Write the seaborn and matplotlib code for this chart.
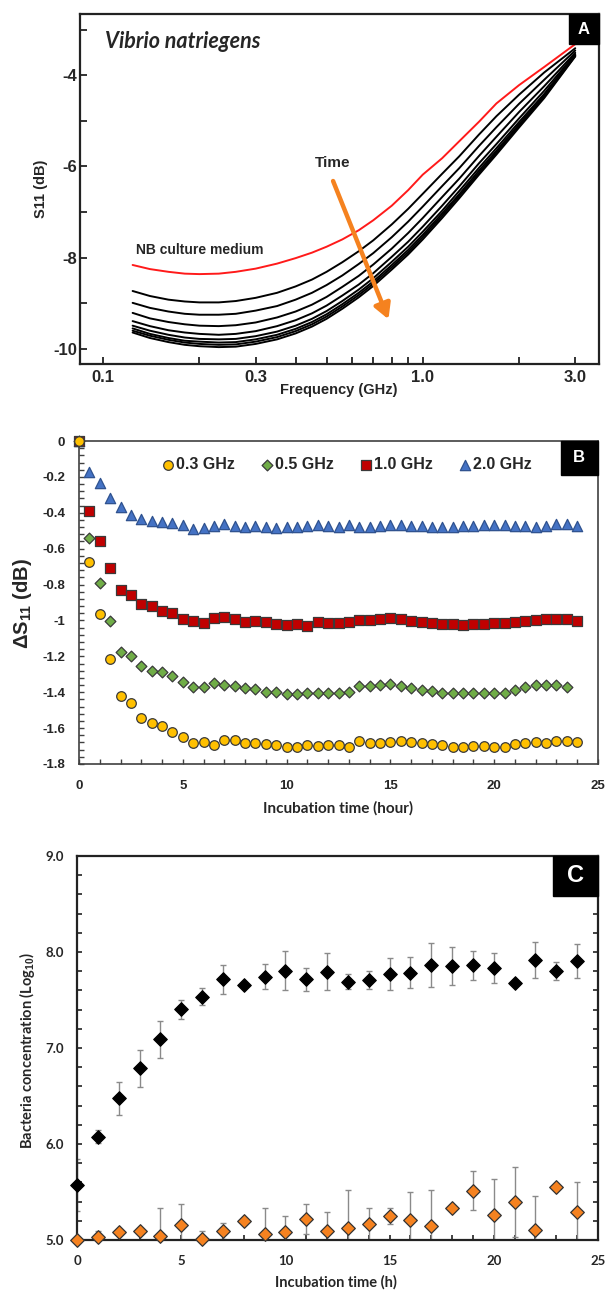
import matplotlib
matplotlib.use('Agg')
import matplotlib.pyplot as plt
import numpy as np
import pandas as pd
import seaborn as sns
from matplotlib.patches import Rectangle
from matplotlib.ticker import FixedLocator, MultipleLocator, FuncFormatter, NullFormatter

# ---- panel A: S11 spectra ----
freq_ghz = [0.1236, 0.14, 0.16, 0.18, 0.2, 0.23, 0.26, 0.3, 0.35, 0.4, 0.45, 0.5, 0.56,
            0.63, 0.7, 0.8, 0.9, 1.0, 1.15, 1.3, 1.5, 1.7, 2.0, 2.4, 3.0]
s11_medium = [-8.16, -8.25, -8.31, -8.35, -8.36, -8.35, -8.31, -8.24, -8.13, -8.01, -7.89,
              -7.76, -7.60, -7.40, -7.18, -6.86, -6.52, -6.18, -5.82, -5.45, -5.02, -4.62,
              -4.22, -3.82, -3.32]
s11_culture = [
    [-8.73, -8.84, -8.92, -8.96, -8.98, -8.98, -8.95, -8.88, -8.77, -8.63, -8.48, -8.31, -8.10,
     -7.86, -7.62, -7.27, -6.93, -6.60, -6.16, -5.78, -5.30, -4.90, -4.43, -3.94, -3.41],
    [-8.99, -9.10, -9.18, -9.23, -9.25, -9.25, -9.23, -9.16, -9.06, -8.92, -8.77, -8.60, -8.39,
     -8.14, -7.90, -7.55, -7.21, -6.88, -6.43, -6.04, -5.55, -5.14, -4.63, -4.10, -3.46],
    [-9.21, -9.33, -9.41, -9.46, -9.49, -9.50, -9.48, -9.42, -9.31, -9.18, -9.03, -8.86, -8.64,
     -8.40, -8.15, -7.80, -7.46, -7.13, -6.67, -6.27, -5.77, -5.35, -4.81, -4.24, -3.51],
    [-9.39, -9.50, -9.59, -9.64, -9.67, -9.69, -9.67, -9.61, -9.50, -9.37, -9.22, -9.05, -8.83,
     -8.59, -8.34, -7.98, -7.65, -7.32, -6.86, -6.44, -5.93, -5.51, -4.95, -4.34, -3.54],
    [-9.49, -9.60, -9.69, -9.75, -9.78, -9.79, -9.78, -9.72, -9.62, -9.49, -9.34, -9.17, -8.95,
     -8.70, -8.45, -8.09, -7.76, -7.43, -6.97, -6.54, -6.03, -5.60, -5.03, -4.41, -3.56],
    [-9.55, -9.67, -9.76, -9.82, -9.84, -9.86, -9.85, -9.79, -9.69, -9.56, -9.41, -9.24, -9.02,
     -8.77, -8.52, -8.16, -7.83, -7.50, -7.03, -6.61, -6.09, -5.66, -5.08, -4.44, -3.57],
    [-9.60, -9.71, -9.80, -9.86, -9.89, -9.91, -9.90, -9.84, -9.74, -9.61, -9.46, -9.29, -9.07,
     -8.82, -8.57, -8.21, -7.88, -7.55, -7.08, -6.65, -6.14, -5.70, -5.11, -4.47, -3.58],
    [-9.64, -9.76, -9.85, -9.91, -9.94, -9.96, -9.95, -9.89, -9.79, -9.66, -9.51, -9.34, -9.12,
     -8.87, -8.62, -8.26, -7.93, -7.60, -7.13, -6.70, -6.18, -5.74, -5.15, -4.50, -3.59],
]

# ---- panel B: delta S11 over time ----
time_b = np.arange(0, 24.01, 0.5)
ds11_03 = [0, -0.672, -0.964, -1.217, -1.419, -1.458, -1.546, -1.573, -1.588, -1.620,
           -1.648, -1.681, -1.676, -1.694, -1.666, -1.666, -1.681, -1.681, -1.689, -1.696,
           -1.707, -1.704, -1.694, -1.700, -1.696, -1.696, -1.704, -1.670, -1.685, -1.681,
           -1.677, -1.672, -1.677, -1.685, -1.690, -1.696, -1.704, -1.704, -1.698, -1.698,
           -1.704, -1.704, -1.689, -1.685, -1.677, -1.681, -1.674, -1.674, -1.677]
ds11_05 = [0, -0.542, -0.793, -1.005, -1.174, -1.196, -1.254, -1.282, -1.289, -1.310,
           -1.343, -1.369, -1.373, -1.350, -1.358, -1.365, -1.378, -1.384, -1.401, -1.397,
           -1.410, -1.410, -1.402, -1.406, -1.406, -1.402, -1.401, -1.364, -1.364, -1.360,
           -1.356, -1.365, -1.378, -1.388, -1.395, -1.402, -1.406, -1.406, -1.406, -1.406,
           -1.406, -1.402, -1.388, -1.373, -1.362, -1.360, -1.362, -1.369]
ds11_10 = [0, -0.390, -0.555, -0.706, -0.830, -0.858, -0.910, -0.920, -0.946, -0.957,
           -0.992, -1.003, -1.012, -0.985, -0.983, -0.992, -1.007, -1.001, -1.007, -1.020,
           -1.027, -1.018, -1.031, -1.011, -1.016, -1.014, -1.007, -0.998, -1.000, -0.994,
           -0.985, -0.992, -1.001, -1.007, -1.012, -1.020, -1.022, -1.027, -1.022, -1.022,
           -1.014, -1.014, -1.007, -1.001, -0.998, -0.990, -0.990, -0.990, -1.001]
ds11_20 = [0, -0.175, -0.232, -0.316, -0.370, -0.414, -0.437, -0.446, -0.450, -0.459,
           -0.468, -0.489, -0.483, -0.472, -0.461, -0.472, -0.477, -0.474, -0.481, -0.485,
           -0.477, -0.477, -0.472, -0.470, -0.474, -0.477, -0.468, -0.477, -0.481, -0.472,
           -0.466, -0.468, -0.472, -0.474, -0.477, -0.481, -0.477, -0.474, -0.472, -0.470,
           -0.470, -0.470, -0.472, -0.474, -0.477, -0.472, -0.464, -0.464, -0.472]

# ---- panel C: plate counts ----
time_c = np.arange(0, 25)
conc_culture = [5.573, 6.076, 6.476, 6.788, 7.090, 7.403, 7.535, 7.715, 7.653, 7.743,
                7.806, 7.715, 7.795, 7.691, 7.708, 7.771, 7.785, 7.865, 7.854, 7.861,
                7.833, 7.680, 7.917, 7.802, 7.906]
err_culture = [0.27, 0.07, 0.17, 0.19, 0.19, 0.10, 0.085, 0.15, 0.0, 0.13,
               0.20, 0.12, 0.19, 0.08, 0.09, 0.17, 0.16, 0.23, 0.20, 0.15,
               0.16, 0.0, 0.19, 0.09, 0.18]
conc_other = [5.000, 5.028, 5.080, 5.090, 5.045, 5.156, 5.014, 5.094, 5.201, 5.063,
              5.087, 5.219, 5.094, 5.122, 5.167, 5.250, 5.208, 5.146, 5.330, 5.514,
              5.260, 5.392, 5.104, 5.552, 5.295]
err_other = [0.0, 0.07, 0.0, 0.0, 0.285, 0.22, 0.08, 0.08, 0.0, 0.27,
             0.16, 0.16, 0.20, 0.40, 0.17, 0.08, 0.29, 0.38, 0.0, 0.20,
             0.38, 0.365, 0.35, 0.0, 0.31]

sns.set_style('ticks')
plt.rcParams['font.family'] = ['Liberation Sans', 'DejaVu Sans']
plt.rcParams['font.weight'] = 'bold'
plt.rcParams['mathtext.fontset'] = 'custom'
plt.rcParams['mathtext.rm'] = 'Liberation Sans:bold'
plt.rcParams['mathtext.bf'] = 'Liberation Sans:bold'

hyphen = FuncFormatter(lambda v, p: f'{round(v, 1):g}'.replace('\u2212', '-'))


def corner_box(ax, letter, x0, y0, size):
    ax.add_patch(Rectangle((x0, y0), 1 - x0, 1 - y0, transform=ax.transAxes,
                           facecolor='black', edgecolor='black', zorder=10, clip_on=False))
    ax.text((1 + x0) / 2, (1 + y0) / 2, letter, transform=ax.transAxes, color='white',
            fontsize=size, fontweight='bold', ha='center', va='center', zorder=11)


def style_spines(ax, color, lw):
    for s in ax.spines.values():
        s.set_visible(True)
        s.set_color(color)
        s.set_linewidth(lw)


fig = plt.figure(figsize=(6.06, 12.9), dpi=100)
ax_a = fig.add_axes([80 / 606, 1 - 364 / 1290, 519 / 606, 350 / 1290])
ax_b = fig.add_axes([79 / 606, 1 - 764 / 1290, 519 / 606, 323 / 1290])
ax_c = fig.add_axes([77 / 606, 1 - 1240 / 1290, 521 / 606, 384 / 1290])

# ---------------- A ----------------
rows = []
names = ['medium'] + [f't{i}' for i in range(len(s11_culture))]
for name, curve in zip(names, [s11_medium] + s11_culture):
    for f, v in zip(freq_ghz, curve):
        rows.append((f, v, name))
df_a = pd.DataFrame(rows, columns=['freq', 's11', 'curve'])
pal = {n: ('#ff1a1a' if n == 'medium' else 'black') for n in names}
sns.lineplot(data=df_a, x='freq', y='s11', hue='curve', palette=pal, legend=False,
             estimator=None, linewidth=1.4, ax=ax_a)

ax_a.set_xscale('log')
ax_a.set_xlim(0.0846, 3.56)
ax_a.set_ylim(-10.33, -2.66)
ax_a.xaxis.set_major_locator(FixedLocator([0.1, 0.3, 1.0, 3.0]))
ax_a.xaxis.set_major_formatter(FuncFormatter(lambda v, p: f'{v:.1f}'))
ax_a.xaxis.set_minor_locator(FixedLocator([0.2, 0.4, 0.5, 0.6, 0.7, 0.8, 0.9, 2.0]))
ax_a.xaxis.set_minor_formatter(NullFormatter())
ax_a.yaxis.set_major_locator(MultipleLocator(2))
ax_a.yaxis.set_minor_locator(MultipleLocator(1))
ax_a.yaxis.set_major_formatter(hyphen)
ax_a.tick_params(which='both', direction='in', length=5, width=1.3, color='#222222',
                 labelsize=12, pad=4)
ax_a.tick_params(axis='y', pad=2)
style_spines(ax_a, '#222222', 1.6)
ax_a.set_xlabel('Frequency (GHz)', fontsize=10.5, fontweight='bold')
ax_a.set_ylabel('S11 (dB)', fontsize=10.5, fontweight='bold')
ax_a.xaxis.set_label_coords(0.499, -0.074)
ax_a.xaxis.label.set_va('center')
ax_a.yaxis.set_label_coords(-0.076, 0.5)
ax_a.yaxis.label.set_va('center')

ax_a.text(0.049, 0.921, 'Vibrio natriegens', transform=ax_a.transAxes, fontsize=15.5,
          fontstyle='italic', fontweight='bold', family=['Lato', 'DejaVu Sans'],
          ha='left', va='center')
ax_a.text(0.1266, -7.83, 'NB culture medium', fontsize=10, fontweight='bold',
          ha='left', va='center')
ax_a.text(0.524, -5.92, 'Time', fontsize=11, fontweight='bold', ha='center', va='center')
ax_a.annotate('', xy=(0.781, -9.35), xytext=(0.524, -6.32),
              arrowprops=dict(arrowstyle='-|>,head_length=0.9,head_width=0.5',
                              color='#f5821f', lw=3.2, shrinkA=0, shrinkB=0))
corner_box(ax_a, 'A', 0.942, 0.914, 12)

# ---------------- B ----------------
series_b = [
    ('0.3 GHz', ds11_03, 'o', '#ffc000', '#3a3a3a', 48, 5),
    ('0.5 GHz', ds11_05, 'D', '#70ad47', '#3a3a3a', 30, 4),
    ('1.0 GHz', ds11_10, 's', '#c00000', '#3a3a3a', 48, 3),
    ('2.0 GHz', ds11_20, '^', '#4472c4', '#2f528f', 55, 2),
]
for label, vals, mk, fc, ec, size, z in series_b:
    sns.scatterplot(x=time_b[:len(vals)], y=vals, marker=mk, s=size, color=fc,
                    edgecolor=ec, linewidth=0.9, label=label, zorder=z, clip_on=False, ax=ax_b)

ax_b.set_xlim(0, 25)
ax_b.set_ylim(-1.8, 0)
ax_b.xaxis.set_major_locator(MultipleLocator(5))
ax_b.xaxis.set_minor_locator(MultipleLocator(1))
ax_b.yaxis.set_major_locator(MultipleLocator(0.2))
ax_b.yaxis.set_minor_locator(MultipleLocator(0.04))
ax_b.yaxis.set_major_formatter(hyphen)
ax_b.tick_params(which='both', direction='in', length=3.5, width=1, color='#404040',
                 labelsize=9.5, right=False, top=False)
ax_b.tick_params(axis='y', pad=10)
ax_b.tick_params(axis='x', pad=11.5)
style_spines(ax_b, '#404040', 1.2)
ax_b.set_xlabel('Incubation time (hour)', fontsize=11, fontweight='bold',
                family=['Lato', 'DejaVu Sans'])
ax_b.set_ylabel('ΔS$_{\\mathbf{11}}$ (dB)', fontsize=14.5, fontweight='bold')
ax_b.xaxis.set_label_coords(0.499, -0.136)
ax_b.xaxis.label.set_va('center')
ax_b.yaxis.set_label_coords(-0.108, 0.498)
ax_b.yaxis.label.set_va('center')
ax_b.legend(loc='center', bbox_to_anchor=(0.514, 0.926), ncol=4, frameon=False,
            handletextpad=0.0, columnspacing=1.5, handlelength=1.0, borderpad=0,
            prop={'size': 11.5, 'weight': 'bold'})
corner_box(ax_b, 'B', 0.928, 0.895, 12)

# ---------------- C ----------------
ax_c.errorbar(time_c, conc_culture, yerr=err_culture, fmt='none', ecolor='#8a8a8a',
              elinewidth=1, capsize=2.5, capthick=1, zorder=2)
ax_c.errorbar(time_c, conc_other, yerr=err_other, fmt='none', ecolor='#8a8a8a',
              elinewidth=1, capsize=2.5, capthick=1, zorder=2)
sns.scatterplot(x=time_c, y=conc_culture, marker='D', s=48, color='black',
                edgecolor='black', linewidth=0.8, zorder=4, clip_on=False, ax=ax_c)
sns.scatterplot(x=time_c, y=conc_other, marker='D', s=48, color='#f58220',
                edgecolor='#333333', linewidth=0.9, zorder=4, clip_on=False, ax=ax_c)

ax_c.set_xlim(0, 25)
ax_c.set_ylim(5.0, 9.0)
ax_c.xaxis.set_major_locator(MultipleLocator(5))
ax_c.xaxis.set_minor_locator(MultipleLocator(1))
ax_c.yaxis.set_major_locator(MultipleLocator(1))
ax_c.yaxis.set_minor_locator(MultipleLocator(0.2))
ax_c.yaxis.set_major_formatter(FuncFormatter(lambda v, p: f'{v:.1f}'))
ax_c.tick_params(which='both', direction='in', length=3.5, width=1.2, color='#222222',
                 labelsize=9.5, right=True, top=False)
ax_c.tick_params(axis='y', pad=9.5)
ax_c.tick_params(axis='x', pad=10.5)
for lab in ax_c.get_xticklabels() + ax_c.get_yticklabels():
    lab.set_family(['Lato', 'DejaVu Sans'])
style_spines(ax_c, '#222222', 1.6)
ax_c.set_xlabel('Incubation time (h)', fontsize=10.5, fontweight='bold',
                family=['Lato', 'DejaVu Sans'])
ax_c.set_ylabel('Bacteria concentration (Log$_{\\mathbf{10}}$)', fontsize=10.5,
                fontweight='bold', family=['Lato', 'DejaVu Sans'])
ax_c.xaxis.set_label_coords(0.497, -0.109)
ax_c.xaxis.label.set_va('center')
ax_c.yaxis.set_label_coords(-0.096, 0.495)
ax_c.yaxis.label.set_va('center')
corner_box(ax_c, 'C', 0.914, 0.896, 17)

fig.savefig('out.png', dpi=100)
